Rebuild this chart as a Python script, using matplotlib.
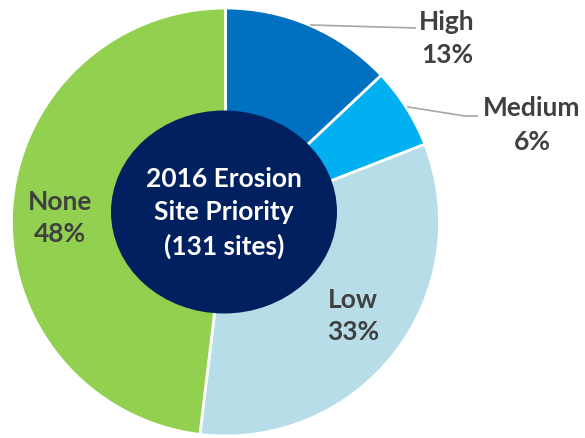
import matplotlib
matplotlib.use("Agg")
import matplotlib.pyplot as plt
from matplotlib.patches import Ellipse

# 2016 erosion sites by priority (131 sites)
labels = ["High", "Medium", "Low", "None"]
sites = [17, 8, 43, 63]
colors = ["#0070C0", "#00B0F0", "#B7DEE8", "#92D050"]
title = "2016 Erosion\nSite Priority\n(131 sites)"

W, H = 585, 439
plt.rcParams["font.family"] = ["Lato", "DejaVu Sans"]

fig = plt.figure(figsize=(W / 100, H / 100), dpi=100)
ax = fig.add_axes([0, 0, 1, 1])

# pixel-like coordinates, y measured from bottom
cx, cy, r = 225.5, H - 223, 214
ax.pie(sites, colors=colors, startangle=90, counterclock=False,
       center=(cx, cy), radius=r,
       wedgeprops=dict(edgecolor="white", linewidth=2))

# navy centre disc
ax.add_patch(Ellipse((224, H - 213), 226, 203, facecolor="#002060",
                     edgecolor="none", zorder=3))
ax.text(224, H - 213, title, ha="center", va="center", color="white",
        fontsize=19, fontweight="bold", linespacing=1.45, zorder=4)

total = sum(sites)
pct = [f"{round(100 * s / total)}%" for s in sites]
txt_color = "#404040"
label_pos = [(447, 38), (532, 125), (353, 316), (60, 218)]
for name, p, (x, y) in zip(labels, pct, label_pos):
    ax.text(x, H - y, f"{name}\n{p}", ha="center", va="center",
            color=txt_color, fontsize=19, fontweight="bold",
            linespacing=1.45, zorder=4)

# leader lines for the small outside labels
ax.plot([311, 415], [H - 26, H - 29], color="#A6A6A6", lw=1.2, zorder=4)
ax.plot([408, 465, 477], [H - 108, H - 117, H - 117], color="#A6A6A6",
        lw=1.2, zorder=4)

ax.set_xlim(0, W)
ax.set_ylim(0, H)
ax.set_aspect("auto")
ax.axis("off")

fig.savefig("out.png", dpi=100)
